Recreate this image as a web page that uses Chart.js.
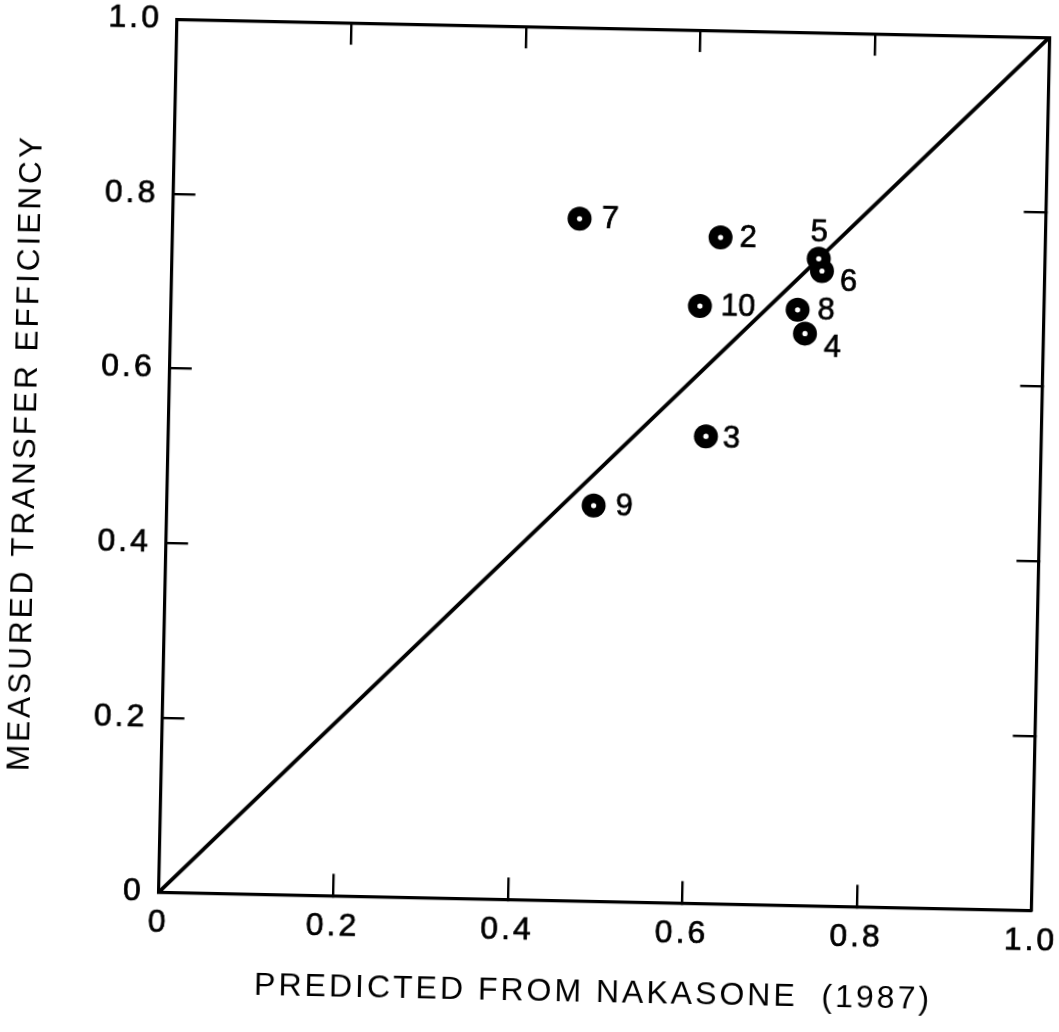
<!DOCTYPE html>
<html>
<head>
<meta charset="utf-8">
<script src="https://cdn.jsdelivr.net/npm/chart.js@4.4.1/dist/chart.umd.min.js"></script>
<style>
  html, body { margin: 0; padding: 0; background: #ffffff; overflow: hidden; width: 1059px; height: 1032px; }
  #wrap { position: absolute; left: 0; top: 0; width: 1059px; height: 1032px; overflow: hidden; }
  #c { position: absolute; left: 0; top: 0; transform-origin: 604px 465px; transform: rotate(1.2deg); }
</style>
</head>
<body>
<div id="wrap"><canvas id="c" width="1100" height="1032"></canvas></div>
<script>
// ---- data ----
const pointIds   = ['2', '3', '4', '5', '6', '7', '8', '9', '10'];
const predicted  = [0.628, 0.616, 0.727, 0.741, 0.745, 0.466, 0.718, 0.489, 0.606];
const measured   = [0.763, 0.535, 0.655, 0.741, 0.727, 0.781, 0.682, 0.453, 0.684];
const lineX      = [0, 1];
const lineY      = [0, 1];
const xTickLabels = ['0', '0.2', '0.4', '0.6', '0.8', '1.0'];
const yTickLabels = ['0', '0.2', '0.4', '0.6', '0.8', '1.0'];
const xTitle = 'PREDICTED FROM NAKASONE  (1987)';
const yTitle = 'MEASURED TRANSFER EFFICIENCY';

// ---- label placement (style, not data) ----
const labelPlace = {
  '2': [19, 0, 'left'], '3': [17, 2, 'left'], '4': [19, 14, 'left'],
  '5': [0, -26, 'center'], '6': [18, 11, 'left'], '7': [22, 0, 'left'],
  '8': [20, 1, 'left'], '9': [22, 1, 'left'], '10': [21, 0, 'left']
};

const INK = '#000000';
const FONT = "'Liberation Sans', Arial, Helvetica, sans-serif";

const pts = pointIds.map((id, i) => ({ x: predicted[i], y: measured[i] }));
const linePts = lineX.map((v, i) => ({ x: v, y: lineY[i] }));

const spacingPlugin = {
  id: 'spacing',
  beforeUpdate(chart) { chart.ctx.letterSpacing = '3px'; },
  beforeDraw(chart) { chart.ctx.letterSpacing = '3px'; }
};

const labelPlugin = {
  id: 'pointLabels',
  afterDatasetsDraw(chart) {
    const ctx = chart.ctx;
    const xs = chart.scales.x, ys = chart.scales.y;
    ctx.save();
    ctx.letterSpacing = '0px';
    ctx.font = '31px ' + FONT;
    ctx.fillStyle = INK;
    ctx.strokeStyle = INK;
    ctx.lineWidth = 0.7;
    ctx.textBaseline = 'middle';
    pointIds.forEach((id, i) => {
      const p = labelPlace[id];
      ctx.textAlign = p[2];
      const px = xs.getPixelForValue(predicted[i]) + p[0];
      const py = ys.getPixelForValue(measured[i]) + p[1];
      ctx.fillText(id, px, py);
      ctx.strokeText(id, px, py);
    });
    ctx.restore();
  }
};

function tickColor(c) {
  const v = c.tick ? c.tick.value : null;
  return (v !== null && (Math.abs(v) < 1e-9 || Math.abs(v - 1) < 1e-9)) ? 'rgba(0,0,0,0)' : INK;
}
function gridOpts() {
  return { drawOnChartArea: false, drawTicks: true, tickLength: -22, lineWidth: 2.4, color: tickColor };
}
const border = { display: true, color: INK, width: 3.2 };

new Chart(document.getElementById('c'), {
  data: {
    datasets: [
      { type: 'scatter', data: pts, pointRadius: 2.6, pointHoverRadius: 2.6, pointBackgroundColor: '#ffffff', pointBorderWidth: 0, order: 0 },
      { type: 'scatter', data: pts, pointRadius: 12, pointHoverRadius: 12, pointBackgroundColor: INK, pointBorderWidth: 0, order: 1 },
      { type: 'line', data: linePts, borderColor: INK, borderWidth: 3.8, pointRadius: 0, fill: false, order: 2 }
    ]
  },
  options: {
    responsive: false,
    animation: false,
    devicePixelRatio: 1,
    events: [],
    layout: { padding: { top: 28.1, right: 59.6, bottom: 0, left: 0 } },
    plugins: { legend: { display: false }, tooltip: { enabled: false }, title: { display: false } },
    scales: {
      x: {
        type: 'linear', position: 'bottom', min: 0, max: 1,
        ticks: { stepSize: 0.2, padding: 34, color: INK, font: { family: FONT, size: 32 },
                 textStrokeColor: INK, textStrokeWidth: 0.7,
                 callback: (v, i) => xTickLabels[i] },
        grid: gridOpts(), border: border,
        title: { display: true, text: xTitle, color: INK, font: { family: FONT, size: 32 }, padding: { top: 0, bottom: 20 } },
        afterFit(s) { s.height = 130.6; s.paddingLeft = 0; s.paddingRight = 0; }
      },
      y: {
        type: 'linear', position: 'left', min: 0, max: 1,
        ticks: { stepSize: 0.2, padding: 37, color: INK, font: { family: FONT, size: 32 },
                 textStrokeColor: INK, textStrokeWidth: 0.7,
                 callback: (v, i) => yTickLabels[i] },
        grid: gridOpts(), border: border,
        title: { display: true, text: yTitle, color: INK, font: { family: FONT, size: 31.5 }, padding: { top: 7, bottom: 0 } },
        afterFit(s) { s.width = 167.8; s.paddingTop = 0; s.paddingBottom = 0; }
      },
      x2: {
        type: 'linear', position: 'top', min: 0, max: 1,
        ticks: { stepSize: 0.2, display: false },
        grid: gridOpts(), border: border,
        afterFit(s) { s.height = 0; s.paddingLeft = 0; s.paddingRight = 0; }
      },
      y2: {
        type: 'linear', position: 'right', min: 0, max: 1,
        ticks: { stepSize: 0.2, display: false },
        grid: gridOpts(), border: border,
        afterFit(s) { s.width = 0; s.paddingTop = 0; s.paddingBottom = 0; }
      }
    }
  },
  plugins: [spacingPlugin, labelPlugin]
});
</script>
</body>
</html>
